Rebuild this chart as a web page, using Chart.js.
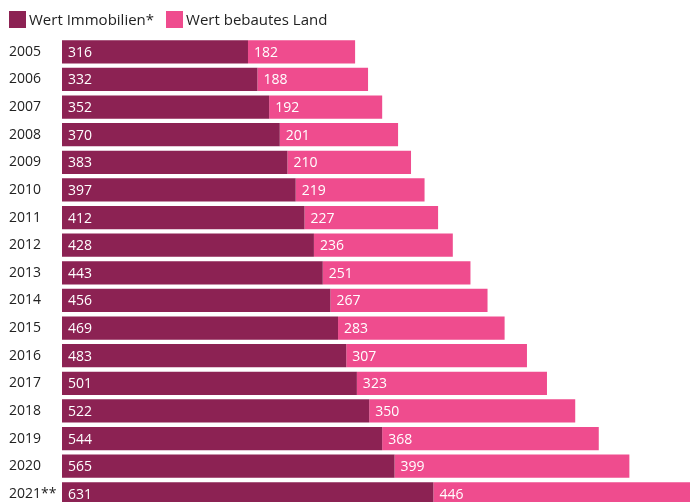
<!DOCTYPE html>
<html>
<head>
<meta charset="utf-8">
<script src="https://cdn.jsdelivr.net/npm/chart.js@4"></script>
<style>
  html, body { margin: 0; padding: 0; background: #fff; overflow: hidden; }
  #wrap { position: relative; width: 690px; height: 519px; }
  #legend { position: absolute; left: 9px; top: 11px; display: flex; font: 15px "Open Sans", sans-serif; color: #222; }
  #legend .item { display: flex; align-items: center; margin-right: 12px; }
  #legend .box { width: 17px; height: 17px; margin-right: 3px; }
  #legend span { line-height: 17px; }
</style>
</head>
<body>
<div id="wrap">
  <div id="legend"></div>
  <canvas id="chart" width="690" height="519"></canvas>
</div>
<script>
const years = ['2005','2006','2007','2008','2009','2010','2011','2012','2013','2014','2015','2016','2017','2018','2019','2020','2021**'];
const wertImmobilien = [316,332,352,370,383,397,412,428,443,456,469,483,501,522,544,565,631];
const wertLand = [182,188,192,201,210,219,227,236,251,267,283,307,323,350,368,399,446];
const seriesNames = ['Wert Immobilien*', 'Wert bebautes Land'];
const seriesColors = ['#8c2253', '#ef4c8e'];

const fontFamily = '"Open Sans", "Noto Sans", sans-serif';

// Werte in die Balken schreiben (weiß, links im Segment)
const barLabels = {
    id: 'barLabels',
    afterDatasetsDraw(chart) {
        const ctx = chart.ctx;
        ctx.save();
        ctx.font = '14px ' + fontFamily;
        ctx.fillStyle = '#ffffff';
        ctx.textAlign = 'left';
        ctx.textBaseline = 'middle';
        chart.data.datasets.forEach((ds, i) => {
            chart.getDatasetMeta(i).data.forEach((bar, j) => {
                ctx.fillText(ds.data[j], Math.min(bar.base, bar.x) + 6, bar.y + 1);
            });
        });
        ctx.restore();
    }
};

const chart = new Chart(document.getElementById('chart'), {
    type: 'bar',
    data: {
        labels: years,
        datasets: [{
            label: seriesNames[0],
            data: wertImmobilien,
            backgroundColor: seriesColors[0],
            barPercentage: 0.84,
            categoryPercentage: 1
        }, {
            label: seriesNames[1],
            data: wertLand,
            backgroundColor: seriesColors[1],
            barPercentage: 0.84,
            categoryPercentage: 1
        }]
    },
    options: {
        indexAxis: 'y',
        responsive: false,
        animation: false,
        layout: { padding: { left: 9, right: 0, top: 38, bottom: 0 } },
        plugins: {
            legend: { display: false },
            tooltip: { enabled: false }
        },
        scales: {
            x: {
                stacked: true,
                display: false,
                min: 0,
                max: 1067
            },
            y: {
                stacked: true,
                grid: { display: false },
                border: { display: false },
                ticks: {
                    autoSkip: false,
                    crossAlign: 'far',
                    color: '#222',
                    font: { family: fontFamily, size: 14 }
                },
                afterFit(scale) { scale.width = 53; }
            }
        }
    },
    plugins: [barLabels]
});

// HTML-Legende aus den Datensätzen
const legend = document.getElementById('legend');
chart.data.datasets.forEach(ds => {
    const item = document.createElement('div');
    item.className = 'item';
    item.innerHTML = `<div class="box" style="background:${ds.backgroundColor}"></div><span>${ds.label}</span>`;
    legend.appendChild(item);
});
</script>
</body>
</html>
